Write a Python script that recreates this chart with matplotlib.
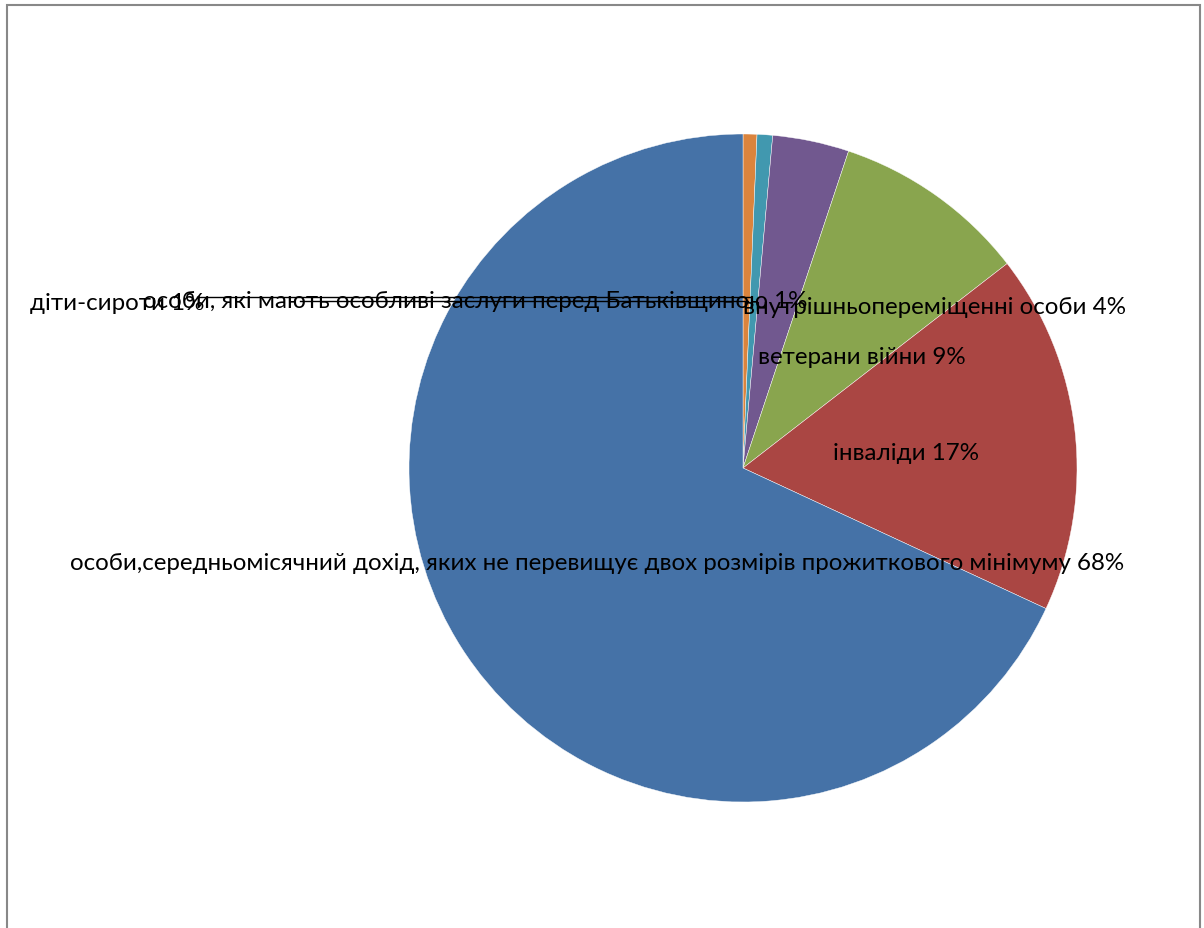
import matplotlib
matplotlib.use('Agg')
import matplotlib.pyplot as plt
from matplotlib.patches import Rectangle

# slices clockwise from the top
names = ['діти-сироти',
         'особи, які мають особливі заслуги перед Батьківщиною',
         'внутрішньопереміщенні особи',
         'ветерани війни',
         'інваліди',
         'особи,середньомісячний дохід, яких не перевищує двох розмірів прожиткового мінімуму']
values = [0.67, 0.75, 3.7, 9.4, 17.4, 68.1]
colors = ['#DB843D', '#4198AF', '#71588F', '#89A54E', '#AA4643', '#4572A7']

W, H = 1204, 929
plt.rcParams['font.family'] = ['Lato', 'DejaVu Sans']

fig = plt.figure(figsize=(W / 100, H / 100), dpi=100)
ax = fig.add_axes([0, 0, 1, 1])
ax.set_xlim(0, W)
ax.set_ylim(0, H)
ax.set_aspect('equal')
ax.axis('off')

ax.pie(values, colors=colors, startangle=90, counterclock=False,
       center=(743, H - 469), radius=334,
       wedgeprops=dict(linewidth=0.3, edgecolor='white'))
ax.set_xlim(0, W)
ax.set_ylim(0, H)

total = sum(values)
labels = [f'{n} {round(v / total * 100)}%' for n, v in zip(names, values)]

# label positions (left x, centre y in pixels from top)
pos = [(30, 303), (143, 302), (743, 308), (758, 357), (833, 453), (70, 563)]

# leader lines for the two small slices
ax.plot([197, 750], [H - 298, H - 298], color='black', lw=1)
ax.plot([300, 748], [H - 302, H - 302], color='black', lw=1)

for (x, y), t in zip(pos, labels):
    ax.text(x, H - y, t, fontsize=17.4, ha='left', va='center', color='black')

ax.add_patch(Rectangle((7, -10), 1193, H - 6 + 10, fill=False,
                       edgecolor='#888888', lw=1.5))

fig.savefig('out.png', dpi=100)
